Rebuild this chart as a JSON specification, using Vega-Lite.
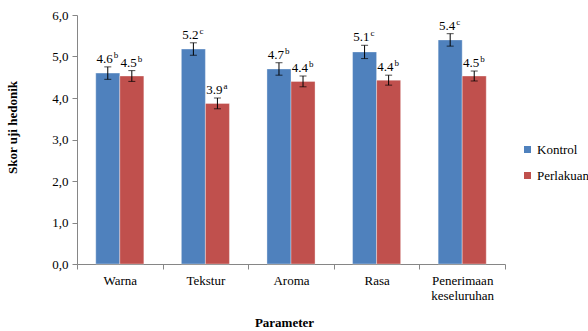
{
  "$schema": "https://vega.github.io/schema/vega-lite/v6.json",
  "width": 428,
  "height": 249,
  "autosize": {"type": "none"},
  "padding": {"left": 77, "top": 15, "right": 83, "bottom": 67},
  "background": "white",
  "config": {
    "view": {"stroke": null},
    "font": "Liberation Serif",
    "text": {"font": "Liberation Serif"},
    "axis": {"labelFont": "Liberation Serif", "titleFont": "Liberation Serif", "labelColor": "#000", "titleColor": "#000"},
    "legend": {"labelFont": "Liberation Serif", "labelColor": "#000"}
  },
  "data": {
    "values": [
      {"param": "Warna", "group": "Kontrol", "value": 4.6, "err": 0.15, "label": "4.6", "letter": "b"},
      {"param": "Warna", "group": "Perlakuan", "value": 4.53, "err": 0.13, "label": "4.5", "letter": "b"},
      {"param": "Tekstur", "group": "Kontrol", "value": 5.18, "err": 0.15, "label": "5.2", "letter": "c"},
      {"param": "Tekstur", "group": "Perlakuan", "value": 3.87, "err": 0.13, "label": "3.9", "letter": "a"},
      {"param": "Aroma", "group": "Kontrol", "value": 4.7, "err": 0.15, "label": "4.7", "letter": "b"},
      {"param": "Aroma", "group": "Perlakuan", "value": 4.4, "err": 0.13, "label": "4.4", "letter": "b"},
      {"param": "Rasa", "group": "Kontrol", "value": 5.11, "err": 0.16, "label": "5.1", "letter": "c"},
      {"param": "Rasa", "group": "Perlakuan", "value": 4.43, "err": 0.12, "label": "4.4", "letter": "b"},
      {"param": "Penerimaan keseluruhan", "group": "Kontrol", "value": 5.4, "err": 0.15, "label": "5.4", "letter": "c"},
      {"param": "Penerimaan keseluruhan", "group": "Perlakuan", "value": 4.53, "err": 0.12, "label": "4.5", "letter": "b"}
    ]
  },
  "transform": [
    {"calculate": "datum.value - datum.err", "as": "lo"},
    {"calculate": "datum.value + datum.err", "as": "hi"}
  ],
  "encoding": {
    "x": {
      "field": "param",
      "type": "nominal",
      "sort": null,
      "scale": {"paddingInner": 0, "paddingOuter": 0},
      "axis": {
        "title": "Parameter",
        "titleFontSize": 13,
        "titleFontWeight": "bold",
        "titleX": 207,
        "titleY": 58,
        "titleBaseline": "middle",
        "labelFontSize": 13,
        "labelAngle": 0,
        "labelPadding": 5,
        "labelExpr": "datum.label == 'Penerimaan keseluruhan' ? ['Penerimaan', 'keseluruhan'] : datum.label",
        "tickBand": "extent",
        "tickSize": 5,
        "tickColor": "#868686",
        "domainColor": "#868686",
        "grid": false
      }
    },
    "xOffset": {"field": "group", "type": "nominal", "sort": ["Kontrol", "Perlakuan"], "scale": {"paddingInner": 0, "paddingOuter": 0.78}}
  },
  "layer": [
    {
      "mark": {"type": "bar", "stroke": "#ffffff", "strokeOpacity": 0.35, "strokeWidth": 1},
      "encoding": {
        "y": {
          "field": "value",
          "type": "quantitative",
          "scale": {"domain": [0, 6], "nice": false},
          "axis": {
            "title": "Skor uji hedonik",
            "titleFontSize": 13,
            "titleFontWeight": "bold",
            "titleX": -65,
            "titleY": 112,
            "titleAngle": -90,
            "titleBaseline": "middle",
            "titleAlign": "center",
            "values": [0, 1, 2, 3, 4, 5, 6],
            "labelExpr": "replace(format(datum.value, '.1f'), '.', ',')",
            "labelFontSize": 13,
            "labelPadding": 4,
            "tickSize": 5,
            "tickColor": "#868686",
            "domainColor": "#868686",
            "grid": false
          }
        },
        "color": {
          "field": "group",
          "type": "nominal",
          "sort": ["Kontrol", "Perlakuan"],
          "scale": {"domain": ["Kontrol", "Perlakuan"], "range": ["#4F81BD", "#C0504D"]},
          "legend": {
            "title": null,
            "orient": "none",
            "legendX": 444,
            "legendY": 128,
            "symbolType": "square",
            "symbolSize": 49,
            "symbolStrokeWidth": 0,
            "labelFontSize": 13,
            "labelOffset": 3,
            "rowPadding": 12,
            "padding": 0
          }
        }
      }
    },
    {
      "mark": {"type": "rule", "color": "#000", "strokeWidth": 1},
      "encoding": {
        "y": {"field": "lo", "type": "quantitative"},
        "y2": {"field": "hi"}
      }
    },
    {
      "mark": {"type": "tick", "color": "#000", "thickness": 1, "size": 7, "orient": "horizontal"},
      "encoding": {"y": {"field": "lo", "type": "quantitative"}}
    },
    {
      "mark": {"type": "tick", "color": "#000", "thickness": 1, "size": 7, "orient": "horizontal"},
      "encoding": {"y": {"field": "hi", "type": "quantitative"}}
    },
    {
      "mark": {"type": "text", "align": "right", "baseline": "alphabetic", "dx": 5, "dy": -4, "fontSize": 13, "color": "#000"},
      "encoding": {
        "y": {"field": "hi", "type": "quantitative"},
        "text": {"field": "label"}
      }
    },
    {
      "mark": {"type": "text", "align": "left", "baseline": "alphabetic", "dx": 6, "dy": -9, "fontSize": 9, "color": "#000"},
      "encoding": {
        "y": {"field": "hi", "type": "quantitative"},
        "text": {"field": "letter"}
      }
    }
  ]
}
